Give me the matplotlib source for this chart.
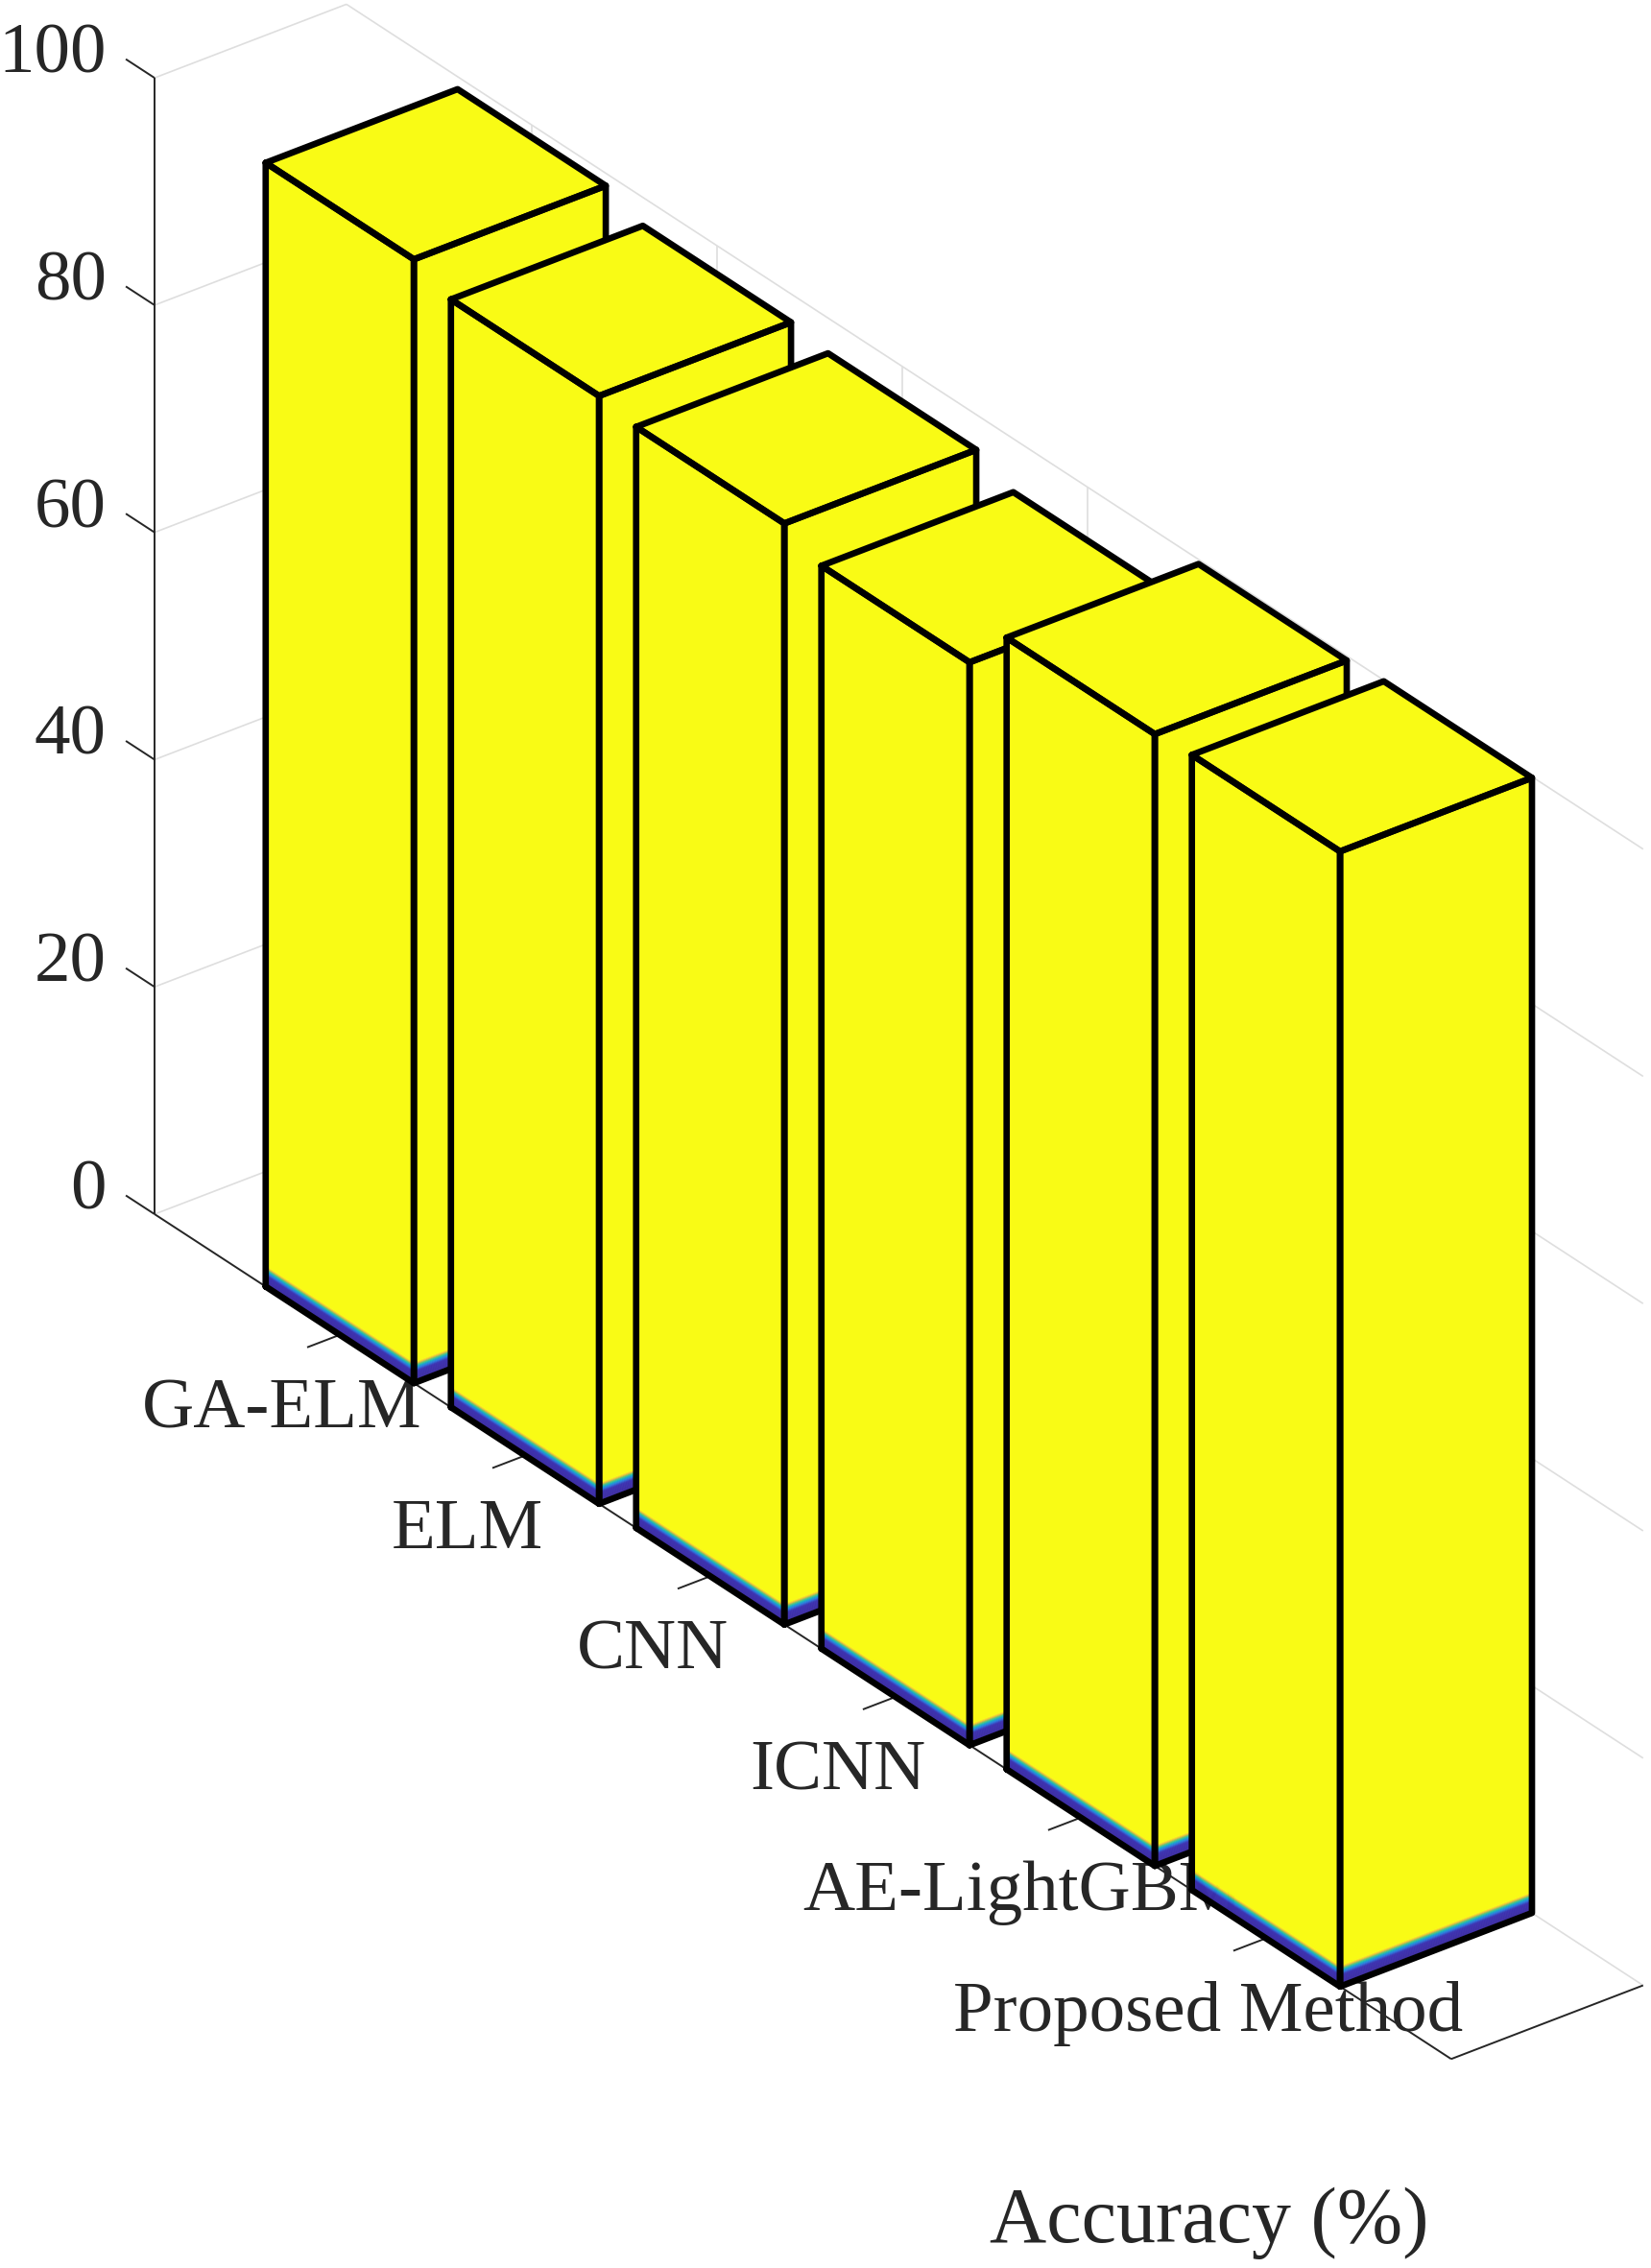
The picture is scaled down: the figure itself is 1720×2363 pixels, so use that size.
import numpy as np
import matplotlib
matplotlib.use("Agg")
import matplotlib.pyplot as plt
from matplotlib.colors import LinearSegmentedColormap
from mpl_toolkits.mplot3d import proj3d
from mpl_toolkits.mplot3d.art3d import Poly3DCollection

categories = ["GA-ELM", "ELM", "CNN", "ICNN", "AE-LightGBM", "Proposed Method"]
accuracy = [98.9, 97.5, 96.9, 95.3, 99.6, 99.9]
z_ticks = [0, 20, 40, 60, 80, 100]
z_label = "Accuracy (%)"

W, H = 1720, 2363
DARK = "#262626"
GRID = "#dedede"
FS = 54
plt.rcParams["font.family"] = ["Liberation Serif", "DejaVu Serif"]

fig = plt.figure(figsize=(W / 100, H / 100), dpi=100, facecolor="white")
ax = fig.add_axes([0.0, 0.2, 1.0, 1.0 * W / H], projection="3d", proj_type="ortho")
ax.computed_zorder = False
ax.set_axis_off()
ax.patch.set_visible(False)
ax.view_init(elev=30, azim=-127.5)
ax.set_box_aspect((252, 2219, 1367))

X0, X1 = 0.5, 1.5
Y0, Y1 = 0.0, 7.0
HALF = 0.4
GRAD_TOP = 1.85

parula = LinearSegmentedColormap.from_list(
    "parula_band",
    [(0.0, "#3b2a9c"), (0.55, "#3b2fb0"), (0.68, "#2a78e0"), (0.78, "#12b3c0"),
     (0.86, "#6cc46a"), (0.93, "#f0b83c"), (1.0, "#f9fb15")],
)
YELLOW = "#f9fb15"


def line(xs, ys, zs, color, lw, z):
    ax.plot(xs, ys, zs, color=color, lw=lw, zorder=z, solid_capstyle="butt", clip_on=False)


# walls and floor grid
for t in z_ticks:
    line([X0, X1], [Y0, Y0], [t, t], GRID, 1.2, 1)
    line([X1, X1], [Y0, Y1], [t, t], GRID, 1.2, 1)
for i in range(1, len(categories) + 1):
    line([X1, X1], [i, i], [0, 100], GRID, 1.2, 1)
    line([X0, X1], [i, i], [0, 0], GRID, 1.2, 1)

# axis lines and ticks
line([X0, X0], [Y0, Y0], [0, 100], DARK, 1.4, 3)
line([X0, X0], [Y0, Y1], [0, 0], DARK, 1.4, 3)
line([X0, X1], [Y1, Y1], [0, 0], DARK, 1.4, 3)
for t in z_ticks:
    line([X0, X0], [Y0, Y0 - 0.155], [t, t], DARK, 1.4, 3)
for i in range(1, len(categories) + 1):
    line([X0, X0 - 0.17], [i, i], [0, 0], DARK, 1.4, 3)

# bars, back to front
levels = np.linspace(0, GRAD_TOP, 25)
for k, (i, h) in enumerate(zip(range(1, len(accuracy) + 1), accuracy)):
    y0, y1 = i - HALF, i + HALF
    polys, cols = [], []
    for a, b in zip(levels[:-1], levels[1:]):
        c = parula(0.5 * (a + b) / GRAD_TOP)
        polys.append([(X0, y0, a), (X0, y1, a), (X0, y1, b), (X0, y0, b)])
        polys.append([(X0, y1, a), (X1, y1, a), (X1, y1, b), (X0, y1, b)])
        cols += [c, c]
    polys.append([(X0, y0, GRAD_TOP), (X0, y1, GRAD_TOP), (X0, y1, h), (X0, y0, h)])
    polys.append([(X0, y1, GRAD_TOP), (X1, y1, GRAD_TOP), (X1, y1, h), (X0, y1, h)])
    polys.append([(X0, y0, h), (X0, y1, h), (X1, y1, h), (X1, y0, h)])
    cols += [YELLOW, YELLOW, YELLOW]
    pc = Poly3DCollection(polys, facecolors=cols, edgecolors=cols, linewidths=0.4, zorder=10 + 2 * k)
    ax.add_collection3d(pc, autolim=False)
    outline = [
        ([X0, X0, X0, X0, X0], [y0, y1, y1, y0, y0], [0, 0, h, h, 0]),
        ([X0, X1, X1, X0, X0], [y1, y1, y1, y1, y1], [0, 0, h, h, 0]),
        ([X0, X0, X1, X1, X0], [y0, y1, y1, y0, y0], [h, h, h, h, h]),
    ]
    for xs, ys, zs in outline:
        ax.plot(xs, ys, zs, color="black", lw=4.8, zorder=11 + 2 * k,
                solid_joinstyle="round", solid_capstyle="round", clip_on=False)

ax.set_xlim(X0, X1)
ax.set_ylim(Y1, Y0)
ax.set_zlim(0, 100)

# fit the projected frame to the page
fig.canvas.draw()


def to_px(x, y, z):
    u, v, _ = proj3d.proj_transform(x, y, z, ax.get_proj())
    return ax.transData.transform((u, v))


p0, p1 = to_px(X0, Y0, 0), to_px(X0, Y1, 0)
target0 = np.array([161.0, H - 1265.0])
target1 = np.array([1512.0, H - 2145.0])
scale = np.linalg.norm(target1 - target0) / np.linalg.norm(p1 - p0)
bb = ax.get_position()
side = bb.width * W * scale
rel = (p0 - np.array([bb.x0 * W, bb.y0 * H])) * scale
left, bottom = target0 - rel
ax.set_position([left / W, bottom / H, side / W, side / H])
fig.canvas.draw()


def label(x, y, z, s, ha):
    px = to_px(x, y, z)
    ax.text2D(px[0] / W, px[1] / H, s, transform=fig.transFigure, fontsize=FS, color=DARK,
              ha=ha, va="center", zorder=5, clip_on=False)


# tick labels sit under the bars, which hide part of AE-LightGBM
for t in z_ticks:
    label(X0, Y0 - 0.26, t - 0.8, str(t), "right")
for i, name in enumerate(categories, start=1):
    label(X0 - 0.3, i, -4.7, name, "center")

fig.text(1260 / W, 1 - 2316 / H, z_label, fontsize=59, color=DARK, ha="center", va="center")
fig.savefig("out.png", dpi=100)
